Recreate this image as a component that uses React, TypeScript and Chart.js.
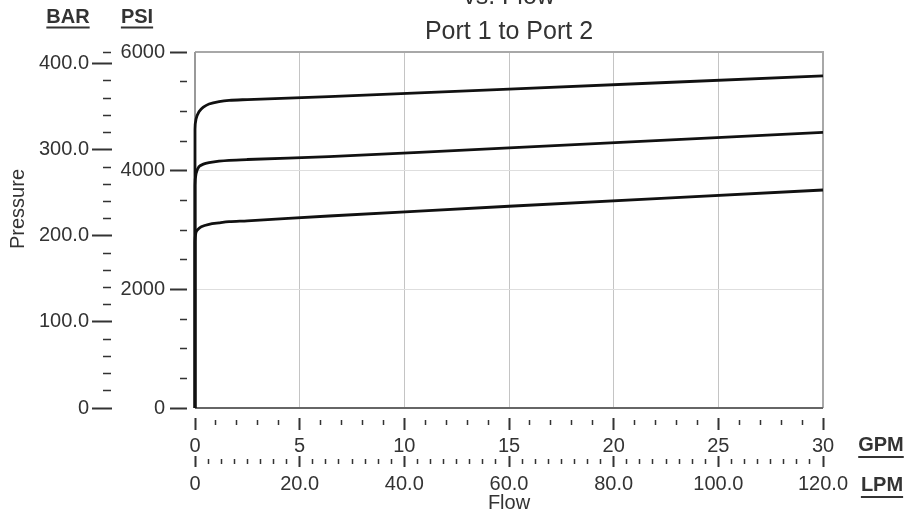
import React, { useEffect, useRef } from 'react';
import { Chart, registerables } from 'chart.js';

Chart.register(...registerables);

// ---- Text ----
const TITLE_LINES = ['vs. Flow', 'Port 1 to Port 2'];
const Y_TITLE = 'Pressure';
const X_TITLE = 'Flow';
const BAR_UNIT = 'BAR';
const PSI_UNIT = 'PSI';
const GPM_UNIT = 'GPM';
const LPM_UNIT = 'LPM';

// ---- Axes ----
const GPM_MAX = 30;
const LPM_MAX = 120;
const PSI_MAX = 6000;
const PSI_PER_BAR = 14.5038;
const BAR_MAX = PSI_MAX / PSI_PER_BAR;

const GPM_LABELS = [0, 5, 10, 15, 20, 25, 30];
const LPM_LABELS = [0, 20, 40, 60, 80, 100, 120];
const PSI_LABELS = [0, 2000, 4000, 6000];
const BAR_LABELS = [0, 100, 200, 300, 400];
const GPM_MINOR_STEP = 1;
const LPM_MINOR_STEP = 2.5;
const PSI_MINOR_STEP = 500;
const BAR_MINOR_STEP = 20;

// ---- Series (flow in GPM, pressure in PSI) ----
const FLOW_HIGH = [0, 0, 0.05, 0.19, 0.4, 0.67, 1.15, 1.63, 2.5, 6.4, 15, 30];
const PSI_HIGH = [0, 4700, 4870, 4994, 5070, 5124, 5165, 5186, 5198, 5247, 5376, 5596];

const FLOW_MID = [0, 0, 0.05, 0.19, 0.4, 0.67, 1.15, 1.63, 2.5, 6.4, 15, 30];
const PSI_MID = [0, 3750, 3950, 4067, 4110, 4134, 4160, 4175, 4188, 4235, 4385, 4647];

const FLOW_LOW = [0, 0, 0.04, 0.11, 0.3, 0.67, 1.15, 1.63, 2.5, 6.4, 15, 30];
const PSI_LOW = [0, 2800, 2950, 3000, 3055, 3096, 3120, 3140, 3155, 3236, 3400, 3674];

const FONT = "'Liberation Sans', Arial, Helvetica, sans-serif";
const TEXT = '#333333';
const TICK = '#333333';

function stepValues(max: number, step: number): number[] {
  const out: number[] = [];
  for (let i = 0; i * step <= max + 1e-9; i++) out.push(+(i * step).toFixed(6));
  return out;
}
const isIn = (list: number[], v: number) => list.some((m) => Math.abs(m - v) < 1e-6);
const pts = (xs: number[], ys: number[]) => xs.map((x, i) => ({ x, y: ys[i] }));

const GPM_TICKS = stepValues(GPM_MAX, GPM_MINOR_STEP);
const LPM_TICKS = stepValues(LPM_MAX, LPM_MINOR_STEP);
const PSI_TICKS = stepValues(PSI_MAX, PSI_MINOR_STEP);
const BAR_TICKS = [...stepValues(400, BAR_MINOR_STEP), BAR_MAX];

function underlinedText(ctx: CanvasRenderingContext2D, text: string, cx: number, cy: number, uy: number) {
  ctx.save();
  ctx.font = `bold 20px ${FONT}`;
  ctx.fillStyle = TEXT;
  ctx.textAlign = 'center';
  ctx.textBaseline = 'middle';
  ctx.fillText(text, cx, cy);
  const w = ctx.measureText(text).width;
  ctx.strokeStyle = TEXT;
  ctx.lineWidth = 2;
  ctx.beginPath();
  ctx.moveTo(cx - w / 2, uy);
  ctx.lineTo(cx + w / 2, uy);
  ctx.stroke();
  ctx.restore();
}

const decorPlugin = {
  id: 'decor',
  beforeDatasetsDraw(chart: any) {
    const { ctx, chartArea: a } = chart;
    ctx.save();
    ctx.lineWidth = 2;
    ctx.strokeStyle = '#a8a8a8';
    ctx.beginPath();
    ctx.moveTo(a.left, a.top);
    ctx.lineTo(a.right, a.top);
    ctx.lineTo(a.right, a.bottom);
    ctx.stroke();
    ctx.strokeStyle = '#999999';
    ctx.beginPath();
    ctx.moveTo(a.left, a.top);
    ctx.lineTo(a.left, a.bottom);
    ctx.stroke();
    ctx.strokeStyle = '#666666';
    ctx.beginPath();
    ctx.moveTo(a.left, a.bottom);
    ctx.lineTo(a.right, a.bottom);
    ctx.stroke();
    ctx.restore();
  },
  afterDraw(chart: any) {
    const { ctx, chartArea: a, scales } = chart;
    const bar = scales.bar;
    const psi = scales.y;
    const gpm = scales.x;
    const lpm = scales.lpm;
    underlinedText(ctx, BAR_UNIT, bar.right - 47, a.top - 35, a.top - 24.5);
    underlinedText(ctx, PSI_UNIT, psi.left + 22, a.top - 35, a.top - 24.5);
    underlinedText(ctx, GPM_UNIT, a.right + 58, gpm.top + 37, gpm.top + 49);
    underlinedText(ctx, LPM_UNIT, a.right + 59, lpm.top + 32, lpm.top + 44);

    ctx.save();
    ctx.font = `20px ${FONT}`;
    ctx.fillStyle = TEXT;
    ctx.textAlign = 'center';
    ctx.textBaseline = 'middle';
    ctx.translate(bar.left + 18, a.top + 157);
    ctx.rotate(-Math.PI / 2);
    ctx.fillText(Y_TITLE, 0, 0);
    ctx.restore();
  },
};

const tickFont = { family: FONT, size: 20 };

export default function App() {
  const canvasRef = useRef<HTMLCanvasElement | null>(null);

  useEffect(() => {
    const canvas = canvasRef.current;
    if (!canvas) return;
    const lineStyle = {
      borderColor: '#111111',
      borderWidth: 2.8,
      pointRadius: 0,
      tension: 0.3,
      fill: false,
      clip: 4,
    };
    const chart = new Chart(canvas, {
      type: 'line',
      data: {
        datasets: [
          { ...lineStyle, label: 'high', data: pts(FLOW_HIGH, PSI_HIGH) },
          { ...lineStyle, label: 'mid', data: pts(FLOW_MID, PSI_MID) },
          { ...lineStyle, label: 'low', data: pts(FLOW_LOW, PSI_LOW) },
        ],
      },
      options: {
        responsive: false,
        animation: false,
        events: [],
        layout: { padding: { left: 0, right: 86, top: 0, bottom: 0 } },
        plugins: {
          legend: { display: false },
          tooltip: { enabled: false },
          title: {
            display: true,
            text: TITLE_LINES,
            fullSize: false,
            color: TEXT,
            font: { family: FONT, size: 25, weight: 'normal', lineHeight: 1.4 },
            padding: { top: 5, bottom: 2 },
          },
        },
        scales: {
          x: {
            type: 'linear',
            position: 'bottom',
            weight: 0,
            min: 0,
            max: GPM_MAX,
            afterBuildTicks: (s: any) => {
              s.ticks = GPM_TICKS.map((value) => ({ value }));
            },
            afterFit: (s: any) => {
              s.height = 45;
            },
            ticks: {
              autoSkip: false,
              maxRotation: 0,
              padding: 4,
              color: TEXT,
              font: tickFont,
              callback: (v: any) => (isIn(GPM_LABELS, v) ? String(v) : ''),
            },
            grid: {
              drawOnChartArea: true,
              lineWidth: 1,
              color: (c: any) => {
                const v = c.tick ? c.tick.value : -1;
                return isIn(GPM_LABELS, v) && v > 0 && v < GPM_MAX ? '#c4c4c4' : 'rgba(0,0,0,0)';
              },
              tickLength: 22,
              tickColor: TICK,
              tickWidth: (c: any) => (c.tick && isIn(GPM_LABELS, c.tick.value) ? 2 : 1.5),
              tickBorderDash: (c: any) =>
                c.tick && isIn(GPM_LABELS, c.tick.value) ? [0, 10, 12, 100] : [0, 12, 5, 100],
            },
            border: { display: false },
          },
          lpm: {
            type: 'linear',
            position: 'bottom',
            weight: 1,
            min: 0,
            max: LPM_MAX,
            afterBuildTicks: (s: any) => {
              s.ticks = LPM_TICKS.map((value) => ({ value }));
            },
            afterFit: (s: any) => {
              s.height = 62;
            },
            ticks: {
              autoSkip: false,
              maxRotation: 0,
              padding: 5,
              color: TEXT,
              font: tickFont,
              callback: (v: any) => (isIn(LPM_LABELS, v) ? (v === 0 ? '0' : Number(v).toFixed(1)) : ''),
            },
            grid: {
              drawOnChartArea: false,
              tickLength: 14,
              tickColor: TICK,
              tickWidth: (c: any) => (c.tick && isIn(LPM_LABELS, c.tick.value) ? 2 : 1.5),
              tickBorderDash: (c: any) =>
                c.tick && isIn(LPM_LABELS, c.tick.value) ? [0, 3, 11, 100] : [0, 6, 5, 100],
            },
            border: { display: false },
            title: {
              display: true,
              text: X_TITLE,
              color: TEXT,
              font: { family: FONT, size: 20 },
              padding: { top: 0, bottom: 0 },
            },
          },
          y: {
            type: 'linear',
            position: 'left',
            weight: 1,
            min: 0,
            max: PSI_MAX,
            afterBuildTicks: (s: any) => {
              s.ticks = PSI_TICKS.map((value) => ({ value }));
            },
            afterFit: (s: any) => {
              s.width = 80;
            },
            ticks: {
              autoSkip: false,
              padding: 5,
              color: TEXT,
              font: tickFont,
              callback: (v: any) => (isIn(PSI_LABELS, v) ? String(v) : ''),
            },
            grid: {
              drawOnChartArea: true,
              lineWidth: 1,
              color: (c: any) => {
                const v = c.tick ? c.tick.value : -1;
                return v === 2000 || v === 4000 ? '#dedede' : 'rgba(0,0,0,0)';
              },
              tickLength: 25,
              tickColor: TICK,
              tickWidth: (c: any) => (c.tick && isIn(PSI_LABELS, c.tick.value) ? 2 : 1.5),
              tickBorderDash: (c: any) =>
                c.tick && isIn(PSI_LABELS, c.tick.value) ? [17, 100] : [0, 10, 7, 100],
            },
            border: { display: false },
          },
          bar: {
            type: 'linear',
            position: 'left',
            weight: 2,
            min: 0,
            max: BAR_MAX,
            afterBuildTicks: (s: any) => {
              s.ticks = BAR_TICKS.map((value) => ({ value }));
            },
            afterFit: (s: any) => {
              s.width = 115;
            },
            ticks: {
              autoSkip: false,
              padding: 3,
              color: TEXT,
              font: tickFont,
              callback: (v: any) => (isIn(BAR_LABELS, v) ? (v === 0 ? '0' : Number(v).toFixed(1)) : ''),
            },
            grid: {
              drawOnChartArea: false,
              tickLength: 23,
              tickColor: TICK,
              tickWidth: (c: any) => (c.tick && isIn(BAR_LABELS, c.tick.value) ? 2 : 1.5),
              tickBorderDash: (c: any) =>
                c.tick && isIn(BAR_LABELS, c.tick.value) ? [20, 100] : [0, 11, 8, 100],
            },
            border: { display: false },
          },
        },
      } as any,
      plugins: [decorPlugin as any],
    });
    return () => chart.destroy();
  }, []);

  return (
    <div style={{ position: 'fixed', top: -25, left: 0, width: 909, height: 540, background: '#fff' }}>
      <canvas ref={canvasRef} width={909} height={540} style={{ display: 'block', width: 909, height: 540 }} />
    </div>
  );
}
